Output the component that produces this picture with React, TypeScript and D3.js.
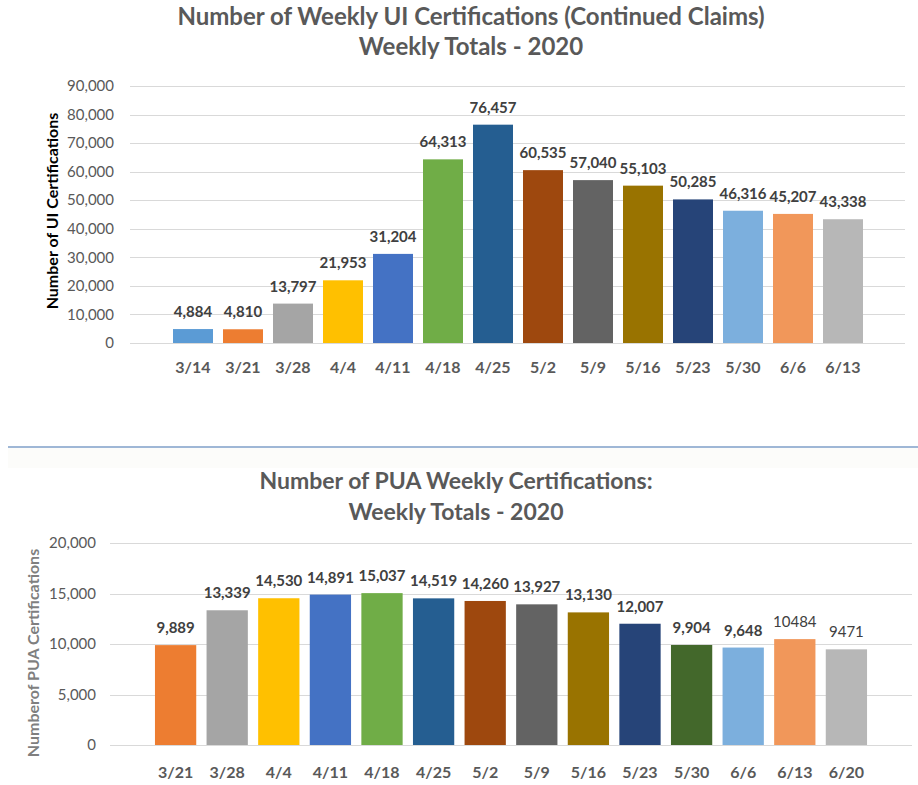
import React, { useEffect, useRef } from 'react';
import * as d3 from 'd3';

// Top chart: UI continued claims
const uiWeeks = ['3/14', '3/21', '3/28', '4/4', '4/11', '4/18', '4/25', '5/2', '5/9', '5/16', '5/23', '5/30', '6/6', '6/13'];
const uiValues = [4884, 4810, 13797, 21953, 31204, 64313, 76457, 60535, 57040, 55103, 50285, 46316, 45207, 43338];
const uiColors = ['#5B9BD5', '#ED7D31', '#A5A5A5', '#FFC000', '#4472C4', '#70AD47', '#255E91', '#9E480E', '#636363', '#997300', '#264478', '#7CAFDD', '#F1975A', '#B7B7B7'];
const uiTicks = [0, 10000, 20000, 30000, 40000, 50000, 60000, 70000, 80000, 90000];

// Bottom chart: PUA certifications
const puaWeeks = ['3/21', '3/28', '4/4', '4/11', '4/18', '4/25', '5/2', '5/9', '5/16', '5/23', '5/30', '6/6', '6/13', '6/20'];
const puaValues = [9889, 13339, 14530, 14891, 15037, 14519, 14260, 13927, 13130, 12007, 9904, 9648, 10484, 9471];
const puaLabels = ['9,889', '13,339', '14,530', '14,891', '15,037', '14,519', '14,260', '13,927', '13,130', '12,007', '9,904', '9,648', '10484', '9471'];
const puaColors = ['#ED7D31', '#A5A5A5', '#FFC000', '#4472C4', '#70AD47', '#255E91', '#9E480E', '#636363', '#997300', '#264478', '#43682B', '#7CAFDD', '#F1975A', '#B7B7B7'];
const puaTicks = [0, 5000, 10000, 15000, 20000];

const FONT = 'Lato, "Open Sans", sans-serif';

interface PanelOpts {
  weeks: string[];
  values: number[];
  labels: string[];
  colors: string[];
  ticks: number[];
  yMax: number;
  gridX: [number, number];
  bandRange: [number, number];
  yRange: [number, number];
  tickLabelX: number;
  xLabelY: number;
  titles: string[];
  titleSize: number;
  titleX: number;
  titleY: number[];
  yTitle: string;
  yTitlePos: [number, number];
  yTitleColor: string;
  plainLabelFrom: number;
}

const App: React.FC = () => {
  const svgRef = useRef<SVGSVGElement>(null);

  useEffect(() => {
    if (!svgRef.current) return;
    const svg = d3.select(svgRef.current);
    svg.selectAll('*').remove();

    const drawPanel = (o: PanelOpts) => {
      const g = svg.append('g');
      const x = d3.scaleBand<string>().domain(o.weeks).range(o.bandRange).paddingInner(0.2).paddingOuter(0.1);
      const y = d3.scaleLinear().domain([0, o.yMax]).range(o.yRange);

      // titles
      o.titles.forEach((t, i) => {
        g.append('text')
          .attr('x', o.titleX)
          .attr('y', o.titleY[i])
          .attr('text-anchor', 'middle')
          .style('font-family', FONT)
          .style('font-size', `${o.titleSize}px`)
          .style('font-weight', 'bold')
          .style('fill', '#595959')
          .text(t);
      });

      // gridlines + tick labels
      g.selectAll('line.grid')
        .data(o.ticks)
        .enter()
        .append('line')
        .attr('x1', o.gridX[0])
        .attr('x2', o.gridX[1])
        .attr('y1', d => Math.round(y(d)) + 0.5)
        .attr('y2', d => Math.round(y(d)) + 0.5)
        .attr('stroke', '#D9D9D9')
        .attr('stroke-width', 1);

      g.selectAll('text.tick')
        .data(o.ticks)
        .enter()
        .append('text')
        .attr('x', o.tickLabelX)
        .attr('y', d => y(d))
        .attr('dy', '0.35em')
        .attr('text-anchor', 'end')
        .style('font-family', FONT)
        .style('font-size', '15px')
        .style('fill', '#595959')
        .text(d => d3.format(',')(d));

      // bars
      g.selectAll('rect.bar')
        .data(o.values)
        .enter()
        .append('rect')
        .attr('x', (d, i) => x(o.weeks[i]) ?? 0)
        .attr('y', d => y(d))
        .attr('width', x.bandwidth())
        .attr('height', d => y(0) - y(d))
        .attr('fill', (d, i) => o.colors[i]);

      // data labels
      g.selectAll('text.val')
        .data(o.values)
        .enter()
        .append('text')
        .attr('x', (d, i) => (x(o.weeks[i]) ?? 0) + x.bandwidth() / 2)
        .attr('y', d => y(d) - 12)
        .attr('text-anchor', 'middle')
        .style('font-family', FONT)
        .style('font-size', '15px')
        .style('font-weight', (d, i) => (i >= o.plainLabelFrom ? 'normal' : 'bold'))
        .style('fill', '#404040')
        .text((d, i) => o.labels[i]);

      // x labels
      g.selectAll('text.xl')
        .data(o.weeks)
        .enter()
        .append('text')
        .attr('x', d => (x(d) ?? 0) + x.bandwidth() / 2)
        .attr('y', o.xLabelY)
        .attr('dy', '0.35em')
        .attr('text-anchor', 'middle')
        .style('font-family', FONT)
        .style('font-size', '16px')
        .style('font-weight', 'bold')
        .style('fill', '#595959')
        .text(d => d);

      // y axis title
      g.append('text')
        .attr('transform', `translate(${o.yTitlePos[0]},${o.yTitlePos[1]}) rotate(-90)`)
        .attr('text-anchor', 'middle')
        .attr('dy', '0.35em')
        .style('font-family', FONT)
        .style('font-size', '16px')
        .style('font-weight', 'bold')
        .style('fill', o.yTitleColor)
        .text(o.yTitle);
    };

    drawPanel({
      weeks: uiWeeks,
      values: uiValues,
      labels: uiValues.map(v => d3.format(',')(v)),
      colors: uiColors,
      ticks: uiTicks,
      yMax: 90000,
      gridX: [130, 905],
      bandRange: [168, 868],
      yRange: [343, 86],
      tickLabelX: 114,
      xLabelY: 367,
      titles: ['Number of Weekly UI Certifications (Continued Claims)', 'Weekly Totals - 2020'],
      titleSize: 24,
      titleX: 471,
      titleY: [25, 55],
      yTitle: 'Number of UI Certifications',
      yTitlePos: [52, 211],
      yTitleColor: '#000000',
      plainLabelFrom: 99,
    });

    // separator
    svg.append('rect').attr('x', 8).attr('y', 448).attr('width', 910).attr('height', 20).attr('fill', '#FCFCFA');
    svg.append('line')
      .attr('x1', 8)
      .attr('x2', 918)
      .attr('y1', 447)
      .attr('y2', 447)
      .attr('stroke', '#7F9FC9')
      .attr('stroke-width', 1.5);

    drawPanel({
      weeks: puaWeeks,
      values: puaValues,
      labels: puaLabels,
      colors: puaColors,
      ticks: puaTicks,
      yMax: 20000,
      gridX: [110, 912],
      bandRange: [149.8, 872.2],
      yRange: [745, 543],
      tickLabelX: 96,
      xLabelY: 772,
      titles: ['Number of PUA Weekly Certifications:', 'Weekly Totals - 2020'],
      titleSize: 23,
      titleX: 456,
      titleY: [489, 520],
      yTitle: 'Numberof PUA Certifications',
      yTitlePos: [33, 653],
      yTitleColor: '#7F7F7F',
      plainLabelFrom: 12,
    });
  }, []);

  return (
    <svg
      ref={svgRef}
      width={918}
      height={785}
      style={{ position: 'absolute', left: 0, top: 0, background: '#FFFFFF' }}
    />
  );
};

export default App;
